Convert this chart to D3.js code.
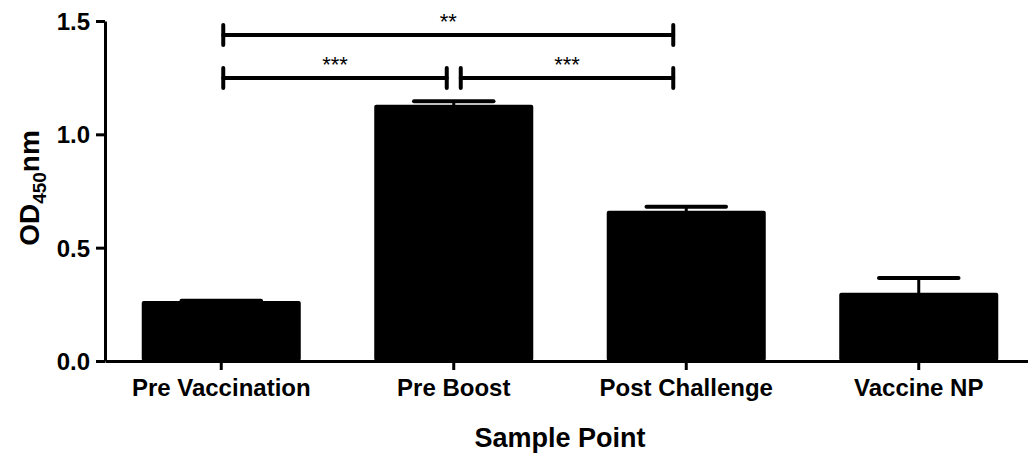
<!DOCTYPE html>
<html>
<head>
<meta charset="utf-8">
<script src="https://cdn.jsdelivr.net/npm/d3@7"></script>
<style>
  html, body { margin: 0; padding: 0; background: #fff; }
  svg { display: block; font-family: "Liberation Sans", Arial, sans-serif; }
</style>
</head>
<body>
<svg id="chart" width="1028" height="459"></svg>
<script>
// Sample points and mean OD450 with SEM
const categories = ["Pre Vaccination", "Pre Boost", "Post Challenge", "Vaccine NP"];
const means = [0.265, 1.13, 0.663, 0.301];
const errors = [0.001, 0.016, 0.017, 0.065];
const yTicks = [0, 0.5, 1.0, 1.5];

// Significance brackets between sample points
const bracketFrom = ["Pre Vaccination", "Pre Vaccination", "Pre Boost"];
const bracketTo = ["Post Challenge", "Pre Boost", "Post Challenge"];
const bracketLevel = [1.438, 1.248, 1.248];
const bracketLabel = ["**", "***", "***"];

const svg = d3.select("#chart");
const plotLeft = 105, plotRight = 1035, plotTop = 21, plotBottom = 361;

const x = d3.scaleBand().domain(categories).range([plotLeft, plotRight])
  .paddingInner(0.316).paddingOuter(0.158);
const y = d3.scaleLinear().domain([0, 1.5]).range([plotBottom, plotTop]);

// Bars
svg.append("g").selectAll("rect").data(categories).join("rect")
  .attr("x", d => x(d))
  .attr("width", x.bandwidth())
  .attr("y", (d, i) => y(means[i]))
  .attr("height", (d, i) => y(0) - y(means[i]))
  .attr("rx", 2)
  .attr("fill", "#000");

// Error bars (upper whisker only)
const eb = svg.append("g").attr("stroke", "#000").attr("stroke-linecap", "round");
categories.forEach((c, i) => {
  const cx = x(c) + x.bandwidth() / 2;
  const half = x.bandwidth() / 4;
  eb.append("line").attr("x1", cx).attr("x2", cx)
    .attr("y1", y(means[i])).attr("y2", y(means[i] + errors[i])).attr("stroke-width", 3);
  eb.append("line").attr("x1", cx - half).attr("x2", cx + half)
    .attr("y1", y(means[i] + errors[i])).attr("y2", y(means[i] + errors[i])).attr("stroke-width", 4);
});

// Axes
const yAxis = svg.append("g").attr("transform", `translate(${plotLeft},0)`)
  .call(d3.axisLeft(y).tickValues(yTicks).tickFormat(d3.format(".1f")).tickSize(9).tickPadding(6).tickSizeOuter(0));
const xAxis = svg.append("g").attr("transform", `translate(0,${plotBottom})`)
  .call(d3.axisBottom(x).tickSize(9).tickPadding(8).tickSizeOuter(0));
[yAxis, xAxis].forEach(a => {
  a.selectAll(".domain").attr("stroke", "#000").attr("stroke-width", 3);
  a.selectAll(".tick line").attr("stroke", "#000").attr("stroke-width", 3);
  a.selectAll(".tick text").attr("fill", "#000")
    .style("font-size", "24px").style("font-weight", "bold")
    .style("font-family", "'Liberation Sans', Arial, sans-serif");
});
yAxis.selectAll(".tick text").attr("dy", "0.36em");
xAxis.selectAll(".tick text").attr("dy", "0.75em");

// Axis titles
svg.append("text").attr("x", 560).attr("y", 447).attr("text-anchor", "middle")
  .style("font-size", "27px").style("font-weight", "bold").text("Sample Point");

const yt = svg.append("text").attr("transform", "translate(39,188) rotate(-90)")
  .attr("text-anchor", "middle").style("font-size", "28px").style("font-weight", "bold");
yt.append("tspan").text("OD");
yt.append("tspan").attr("dy", 7).style("font-size", "19px").text("450");
yt.append("tspan").attr("dy", -7).text("nm");

// Significance brackets
const offsets = { start: [2, 2, 7], end: [-13, -7, -13] };
const br = svg.append("g").attr("stroke", "#000").attr("stroke-linecap", "round");
bracketFrom.forEach((f, i) => {
  const x1 = x(f) + x.bandwidth() / 2 + offsets.start[i];
  const x2 = x(bracketTo[i]) + x.bandwidth() / 2 + offsets.end[i];
  const yy = y(bracketLevel[i]);
  br.append("line").attr("x1", x1).attr("x2", x2).attr("y1", yy).attr("y2", yy).attr("stroke-width", 4);
  [x1, x2].forEach(xx => br.append("line").attr("x1", xx).attr("x2", xx)
    .attr("y1", yy - 10).attr("y2", yy + 10).attr("stroke-width", 4));
  svg.append("text").attr("x", (x1 + x2) / 2).attr("y", yy - 6)
    .attr("text-anchor", "middle").style("font-size", "22px").text(bracketLabel[i]);
});
</script>
</body>
</html>
